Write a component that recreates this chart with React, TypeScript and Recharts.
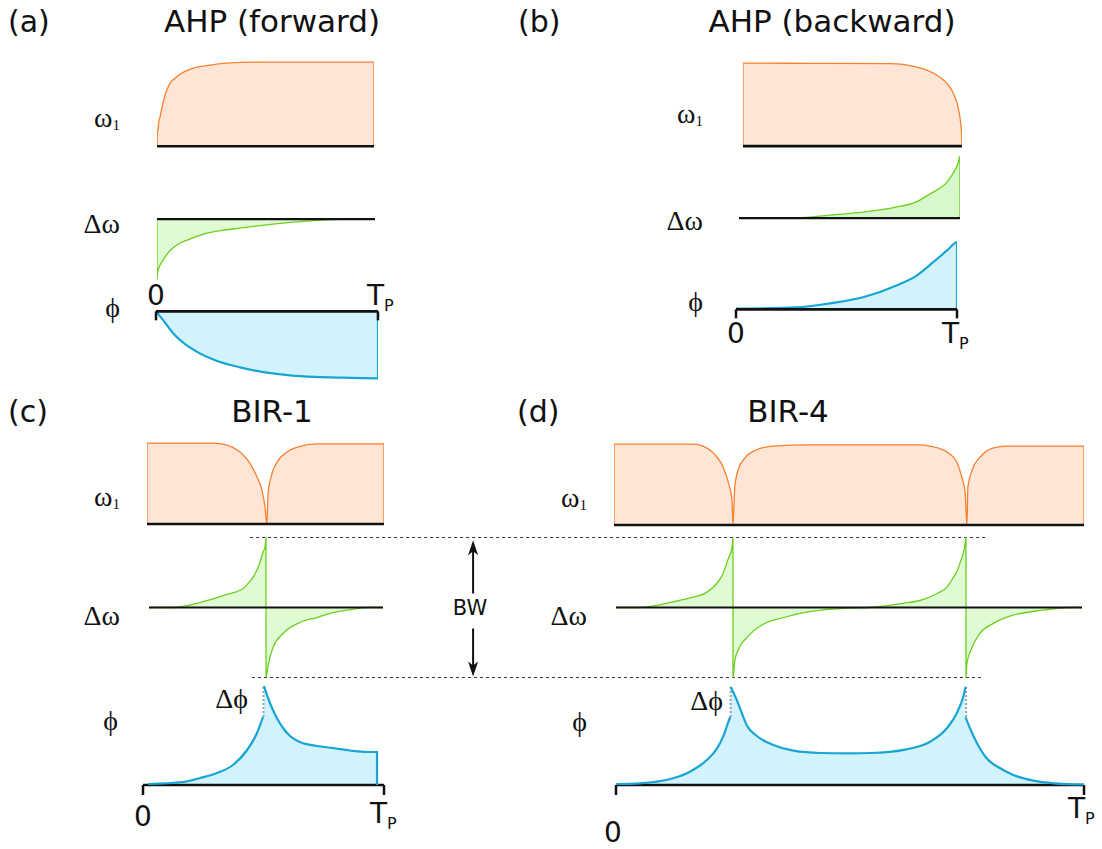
import React from 'react';
import { ComposedChart, Area, Line, XAxis, YAxis, ReferenceLine, ReferenceDot } from 'recharts';

type Pt = [number, number];

// Time is in units of the pulse length Tp; amplitudes are normalised to their peak.

// (a) AHP, forward
const ahpFwdOmega1: Pt[] = [
  [0, 0], [0.001, 0.13], [0.005, 0.21], [0.009, 0.3], [0.014, 0.35], [0.023, 0.46], [0.037, 0.61],
  [0.06, 0.75], [0.083, 0.81], [0.106, 0.857], [0.166, 0.93], [0.244, 0.964], [0.32, 0.988],
  [0.475, 1], [1, 1], [1, 0],
];
const ahpFwdDelta: Pt[] = [
  [0, 0], [0, -1], [0.001, -0.92], [0.005, -0.836], [0.014, -0.754], [0.028, -0.672], [0.046, -0.574],
  [0.073, -0.475], [0.106, -0.393], [0.151, -0.328], [0.229, -0.23], [0.3, -0.185], [0.381, -0.148],
  [0.532, -0.082], [0.688, -0.033], [0.839, -0.005], [1, 0],
];
const ahpFwdPhi: Pt[] = [
  [0, 0], [0.041, -0.17], [0.077, -0.328], [0.131, -0.49], [0.189, -0.612], [0.266, -0.73],
  [0.378, -0.836], [0.491, -0.91], [0.604, -0.955], [0.716, -0.978], [0.829, -0.99], [1, -1], [1, 0],
];

// (b) AHP, backward
const ahpBwdOmega1: Pt[] = [
  [0, 0], [0, 1], [0.3, 0.998], [0.671, 0.995], [0.73, 0.985], [0.795, 0.952], [0.845, 0.91],
  [0.886, 0.855], [0.918, 0.79], [0.945, 0.711], [0.965, 0.61], [0.982, 0.47], [0.993, 0.3],
  [0.998, 0.15], [1, 0],
];
const ahpBwdDelta: Pt[] = [
  [0, 0], [0.26, 0.005], [0.41, 0.048], [0.56, 0.097], [0.71, 0.177], [0.8, 0.258], [0.87, 0.403],
  [0.941, 0.58], [0.977, 0.774], [0.993, 0.9], [1, 1], [1, 0],
];
const ahpBwdPhi: Pt[] = [
  [0, 0.01], [0.276, 0.03], [0.425, 0.09], [0.575, 0.18], [0.729, 0.358], [0.819, 0.507],
  [0.891, 0.7], [0.955, 0.88], [1, 1], [1, 0],
];

// (c) BIR-1
const bir1Omega1: Pt[] = [
  [0, 0], [0, 1], [0.278, 1], [0.338, 0.975], [0.392, 0.89], [0.435, 0.75], [0.464, 0.58],
  [0.485, 0.42], [0.498, 0.21], [0.506, 0], [0.511, 0.38], [0.523, 0.58], [0.549, 0.765],
  [0.591, 0.89], [0.646, 0.96], [0.717, 0.99], [1, 0.99], [1, 0],
];
const bir1Delta: Pt[] = [
  [0, 0], [0.103, 0], [0.218, 0.07], [0.333, 0.186], [0.402, 0.271], [0.427, 0.357], [0.444, 0.429],
  [0.474, 0.643], [0.487, 0.786], [0.496, 0.87], [0.5, 1], [0.5, -1], [0.509, -0.83], [0.53, -0.57],
  [0.573, -0.371], [0.645, -0.214], [0.718, -0.143], [0.79, -0.071], [0.863, -0.029], [0.932, 0], [1, 0],
];
const bir1PhiRise: Pt[] = [
  [0.021, 0.01], [0.166, 0.03], [0.237, 0.07], [0.307, 0.12], [0.373, 0.2], [0.432, 0.35],
  [0.473, 0.52], [0.498, 0.68],
];
const bir1PhiFall: Pt[] = [
  [0.502, 0.99], [0.519, 0.87], [0.539, 0.75], [0.56, 0.65], [0.581, 0.57], [0.61, 0.49],
  [0.651, 0.43], [0.722, 0.39], [0.788, 0.37], [0.859, 0.345], [0.929, 0.33], [0.971, 0.33], [0.971, 0],
];
const bir1PhaseJumps = [0.5];

// (d) BIR-4
const bir4Omega1: Pt[] = [
  [0, 0], [0, 1], [0.168, 1], [0.198, 0.95], [0.219, 0.84], [0.232, 0.72], [0.243, 0.53], [0.251, 0.31],
  [0.253, 0], [0.257, 0.47], [0.264, 0.68], [0.279, 0.83], [0.304, 0.93], [0.338, 0.975], [0.411, 0.99],
  [0.651, 0.99], [0.672, 0.975], [0.709, 0.9], [0.73, 0.77], [0.74, 0.59], [0.747, 0.41], [0.751, 0],
  [0.753, 0.47], [0.762, 0.68], [0.779, 0.84], [0.806, 0.95], [0.836, 0.975], [1, 0.975], [1, 0],
];
const bir4Delta: Pt[] = [
  [0, 0], [0.052, 0], [0.122, 0.08], [0.159, 0.136], [0.195, 0.22], [0.217, 0.35], [0.23, 0.49],
  [0.24, 0.68], [0.249, 0.86], [0.251, 1], [0.251, -1], [0.255, -0.76], [0.262, -0.61], [0.281, -0.43],
  [0.313, -0.25], [0.356, -0.15], [0.406, -0.07], [0.438, -0.04], [0.5, -0.01], [0.545, 0],
  [0.616, 0.06], [0.652, 0.1], [0.689, 0.2], [0.71, 0.29], [0.722, 0.41], [0.731, 0.51], [0.74, 0.67],
  [0.748, 0.86], [0.751, 1], [0.751, -1], [0.753, -0.8], [0.764, -0.57], [0.781, -0.37], [0.809, -0.23],
  [0.852, -0.11], [0.903, -0.05], [0.974, 0], [1, 0],
];
const bir4PhiRise: Pt[] = [
  [0, 0.01], [0.051, 0.017], [0.122, 0.067], [0.158, 0.133], [0.194, 0.25], [0.216, 0.367],
  [0.229, 0.483], [0.239, 0.617], [0.244, 0.68],
];
const bir4PhiMid: Pt[] = [
  [0.245, 0.983], [0.258, 0.85], [0.265, 0.767], [0.279, 0.6], [0.301, 0.49], [0.336, 0.4],
  [0.379, 0.343], [0.436, 0.32], [0.5, 0.317], [0.543, 0.32], [0.621, 0.357], [0.671, 0.433],
  [0.707, 0.567], [0.728, 0.717], [0.742, 0.883], [0.747, 0.983],
];
const bir4PhiFall: Pt[] = [
  [0.747, 0.677], [0.758, 0.55], [0.77, 0.43], [0.792, 0.267], [0.821, 0.167], [0.849, 0.1],
  [0.892, 0.043], [0.935, 0.017], [1, 0.005],
];
const bir4PhaseJumps = [0.245, 0.748];

// pulse start / end marks on the phase axes
const pulseEdges = [0, 1];
// sweep limits ±BW/2 (normalised) and where the BW arrow sits on the BIR-1 time axis
const bwLimits = [1, -1];
const bwArrowT = 1.385;

const ORANGE = '#F8802F';
const ORANGE_FILL = '#FEE5D6';
const GREEN = '#6CCF1F';
const GREEN_FILL = '#E0FAD3';
const BLUE = '#18A5D4';
const BLUE_FILL = '#D3F3FC';
const INK = '#111';
const SERIF = '"Liberation Serif", "DejaVu Serif", serif';
const SANS = '"DejaVu Sans", Verdana, sans-serif';
const CURVE = 'monotoneX';

const rows = (pts: Pt[]) => pts.map(([t, v]) => ({ t, v }));
const phaseRows = (...branches: Pt[][]) =>
  branches.flatMap((b, i) => b.map(([t, v]) => ({ t, f: v, ['b' + i]: v })));

const PAD = 6;

interface FrameProps {
  x0: number; x1: number; y0: number; y1: number;
  t: [number, number]; v: [number, number];
  data: any[];
  children: React.ReactNode;
}

// One trace strip: t = 0..1 spans x0..x1, v = 0 sits at y0 and v = 1 at y1.
function Frame({ x0, x1, y0, y1, t, v, data, children }: FrameProps) {
  const sx = x1 - x0;
  const sy = y0 - y1;
  const left = x0 + t[0] * sx - PAD;
  const top = y0 - v[1] * sy - PAD;
  const width = (t[1] - t[0]) * sx + 2 * PAD;
  const height = (v[1] - v[0]) * sy + 2 * PAD;
  return (
    <div style={{ position: 'absolute', left, top }}>
      <ComposedChart width={width} height={height} data={data}
        margin={{ top: PAD, right: PAD, bottom: PAD, left: PAD }}>
        <XAxis type="number" dataKey="t" domain={t} hide allowDataOverflow />
        <YAxis type="number" domain={v} hide allowDataOverflow />
        {children}
      </ComposedChart>
    </div>
  );
}

const base = (w: number, to = 1) => (
  <ReferenceLine segment={[{ x: 0, y: 0 }, { x: to, y: 0 }]} stroke={INK} strokeWidth={w} />
);

const edgeTicks = (depth: number) =>
  pulseEdges.map((e) => (
    <ReferenceLine key={'tick' + e} segment={[{ x: e, y: 0 }, { x: e, y: -depth }]} stroke={INK} strokeWidth={2.5} />
  ));

const filled = (color: string, fill: string, width: number, key = 'v') => (
  <Area dataKey={key} type={CURVE} stroke={color} strokeWidth={width} fill={fill} fillOpacity={1}
    baseValue={0} dot={false} activeDot={false} isAnimationActive={false} />
);

const fillOnly = (
  <Area dataKey="f" type={CURVE} stroke="none" fill={BLUE_FILL} fillOpacity={1}
    baseValue={0} dot={false} activeDot={false} isAnimationActive={false} />
);

const branchLines = (n: number) =>
  Array.from({ length: n }, (_, i) => (
    <Line key={'b' + i} dataKey={'b' + i} type={CURVE} stroke={BLUE} strokeWidth={2.2}
      dot={false} activeDot={false} connectNulls={false} isAnimationActive={false} />
  ));

const jumpMarks = (ts: number[]) =>
  ts.map((t) => (
    <ReferenceLine key={'j' + t} segment={[{ x: t, y: 0.68 }, { x: t, y: 0.98 }]} stroke="#9AA3A8"
      strokeWidth={2} strokeDasharray="2 2" />
  ));

const arrowHead = (dir: 1 | -1) => (p: any) => (
  <path
    d={`M${p.cx},${p.cy} L${p.cx - 5},${p.cy + dir * 15} L${p.cx},${p.cy + dir * 11} L${p.cx + 5},${p.cy + dir * 15} Z`}
    fill={INK}
  />
);

function Sym({ x, y, main, sub }: { x: number; y: number; main: string; sub?: string }) {
  return (
    <text x={x} y={y} textAnchor="end" fontFamily={SERIF} fontSize={28} fill={INK}>
      {main}
      {sub ? <tspan fontSize={15} dy={3}>{sub}</tspan> : null}
    </text>
  );
}

function Tp({ x, y }: { x: number; y: number }) {
  return (
    <text x={x} y={y} fontFamily={SANS} fontSize={28} fill={INK}>
      T<tspan fontSize={16} dy={6}>P</tspan>
    </text>
  );
}

function Zero({ x, y }: { x: number; y: number }) {
  return <text x={x} y={y} textAnchor="middle" fontFamily={SANS} fontSize={28} fill={INK}>0</text>;
}

function Title({ x, y, children, anchor = 'middle', size = 31 }: { x: number; y: number; children: string; anchor?: string; size?: number }) {
  return <text x={x} y={y} textAnchor={anchor as any} fontFamily={SANS} fontSize={size} fill={INK}>{children}</text>;
}

export default function App() {
  return (
    <div style={{ position: 'absolute', left: 0, top: 0, width: 1102, height: 849, background: '#fff', overflow: 'hidden' }}>
      {/* (a) AHP forward */}
      <Frame x0={157} x1={374} y0={146} y1={62} t={[0, 1]} v={[-0.05, 1.05]} data={rows(ahpFwdOmega1)}>
        {filled(ORANGE, ORANGE_FILL, 1.3)}
        {base(2.6)}
      </Frame>
      <Frame x0={157} x1={375} y0={219} y1={158} t={[0, 1]} v={[-1.05, 0.05]} data={rows(ahpFwdDelta)}>
        {filled(GREEN, GREEN_FILL, 1.3)}
        {base(2.2)}
      </Frame>
      <Frame x0={156} x1={378} y0={311} y1={244} t={[0, 1]} v={[-1.05, 0.05]} data={rows(ahpFwdPhi)}>
        {filled(BLUE, BLUE_FILL, 2.2)}
        {base(2.6)}
        {edgeTicks(0.134)}
      </Frame>

      {/* (b) AHP backward */}
      <Frame x0={743} x1={962} y0={146} y1={63} t={[0, 1]} v={[-0.05, 1.05]} data={rows(ahpBwdOmega1)}>
        {filled(ORANGE, ORANGE_FILL, 1.3)}
        {base(2.6)}
      </Frame>
      <Frame x0={739} x1={960} y0={218} y1={156} t={[0, 1]} v={[-0.05, 1.05]} data={rows(ahpBwdDelta)}>
        {filled(GREEN, '#D6F8CC', 1.3)}
        {base(2.2)}
      </Frame>
      <Frame x0={736} x1={957} y0={309} y1={242} t={[0, 1]} v={[-0.2, 1.05]} data={rows(ahpBwdPhi)}>
        {filled(BLUE, BLUE_FILL, 2.2)}
        {base(2.6)}
        {edgeTicks(0.134)}
      </Frame>

      {/* (c) BIR-1 */}
      <Frame x0={147} x1={384} y0={524} y1={443} t={[0, 1]} v={[-0.05, 1.05]} data={rows(bir1Omega1)}>
        {filled(ORANGE, ORANGE_FILL, 1.3)}
        {base(2.6)}
      </Frame>
      <Frame x0={149} x1={383} y0={607} y1={537} t={[0, 3.6]} v={[-1.05, 1.05]} data={rows(bir1Delta)}>
        {filled(GREEN, GREEN_FILL, 1.3)}
        {base(2.2)}
        <ReferenceLine segment={[{ x: 0.432, y: bwLimits[0] }, { x: 3.573, y: bwLimits[0] }]} stroke="#333"
          strokeWidth={1} strokeDasharray="3 3" />
        <ReferenceLine segment={[{ x: 0.44, y: bwLimits[1] }, { x: 3.56, y: bwLimits[1] }]} stroke="#333"
          strokeWidth={1} strokeDasharray="3 3" />
        <ReferenceLine segment={[{ x: bwArrowT, y: 0.2 }, { x: bwArrowT, y: 0.85 }]} stroke={INK} strokeWidth={2} />
        <ReferenceLine segment={[{ x: bwArrowT, y: -0.3 }, { x: bwArrowT, y: -0.85 }]} stroke={INK} strokeWidth={2} />
        <ReferenceDot x={bwArrowT} y={0.96} r={1} shape={arrowHead(1)} />
        <ReferenceDot x={bwArrowT} y={-0.985} r={1} shape={arrowHead(-1)} />
      </Frame>
      <Frame x0={143} x1={384} y0={785} y1={685} t={[0, 1]} v={[-0.15, 1.05]} data={phaseRows(bir1PhiRise, bir1PhiFall)}>
        {fillOnly}
        {base(2.6)}
        {edgeTicks(0.1)}
        {jumpMarks(bir1PhaseJumps)}
        {branchLines(2)}
      </Frame>

      {/* (d) BIR-4 */}
      <Frame x0={614} x1={1084} y0={525} y1={444} t={[0, 1]} v={[-0.05, 1.05]} data={rows(bir4Omega1)}>
        {filled(ORANGE, ORANGE_FILL, 1.3)}
        {base(2.6)}
      </Frame>
      <Frame x0={616} x1={1082} y0={607.5} y1={537.5} t={[0, 1]} v={[-1.05, 1.05]} data={rows(bir4Delta)}>
        {filled(GREEN, GREEN_FILL, 1.3)}
        {base(2.2)}
      </Frame>
      <Frame x0={616} x1={1084} y0={785} y1={685} t={[0, 1]} v={[-0.15, 1.05]}
        data={phaseRows(bir4PhiRise, bir4PhiMid, bir4PhiFall)}>
        {fillOnly}
        {base(2.6)}
        {edgeTicks(0.1)}
        {jumpMarks(bir4PhaseJumps)}
        {branchLines(3)}
      </Frame>

      <svg width={1102} height={849} style={{ position: 'absolute', left: 0, top: 0, pointerEvents: 'none' }}>
        <Title x={8} y={32} anchor="start" size={30}>(a)</Title>
        <Title x={272} y={32}>AHP (forward)</Title>
        <Title x={518} y={32} anchor="start" size={30}>(b)</Title>
        <Title x={832} y={32}>AHP (backward)</Title>
        <Title x={8} y={422} anchor="start" size={30}>(c)</Title>
        <Title x={272} y={422}>BIR-1</Title>
        <Title x={517} y={422} anchor="start" size={30}>(d)</Title>
        <Title x={788} y={422}>BIR-4</Title>

        <Sym x={120} y={127} main="ω" sub="1" />
        <Sym x={120} y={233} main="Δω" />
        <Sym x={120} y={317} main="ϕ" />
        <Zero x={156} y={305} />
        <Tp x={367} y={305} />

        <Sym x={703} y={123} main="ω" sub="1" />
        <Sym x={703} y={230} main="Δω" />
        <Sym x={703} y={311} main="ϕ" />
        <Zero x={736} y={343} />
        <Tp x={942} y={343} />

        <Sym x={120} y={506} main="ω" sub="1" />
        <Sym x={120} y={625} main="Δω" />
        <Sym x={118} y={730} main="ϕ" />
        <Sym x={248} y={708} main="Δϕ" />
        <Zero x={143} y={826} />
        <Tp x={370} y={823} />
        <text x={470} y={615} textAnchor="middle" fontFamily={SANS} fontSize={21} fill={INK}>BW</text>

        <Sym x={587} y={507} main="ω" sub="1" />
        <Sym x={587} y={625} main="Δω" />
        <Sym x={587} y={731} main="ϕ" />
        <Sym x={723} y={710} main="Δϕ" />
        <Zero x={613} y={842} />
        <Tp x={1068} y={818} />
      </svg>
    </div>
  );
}
